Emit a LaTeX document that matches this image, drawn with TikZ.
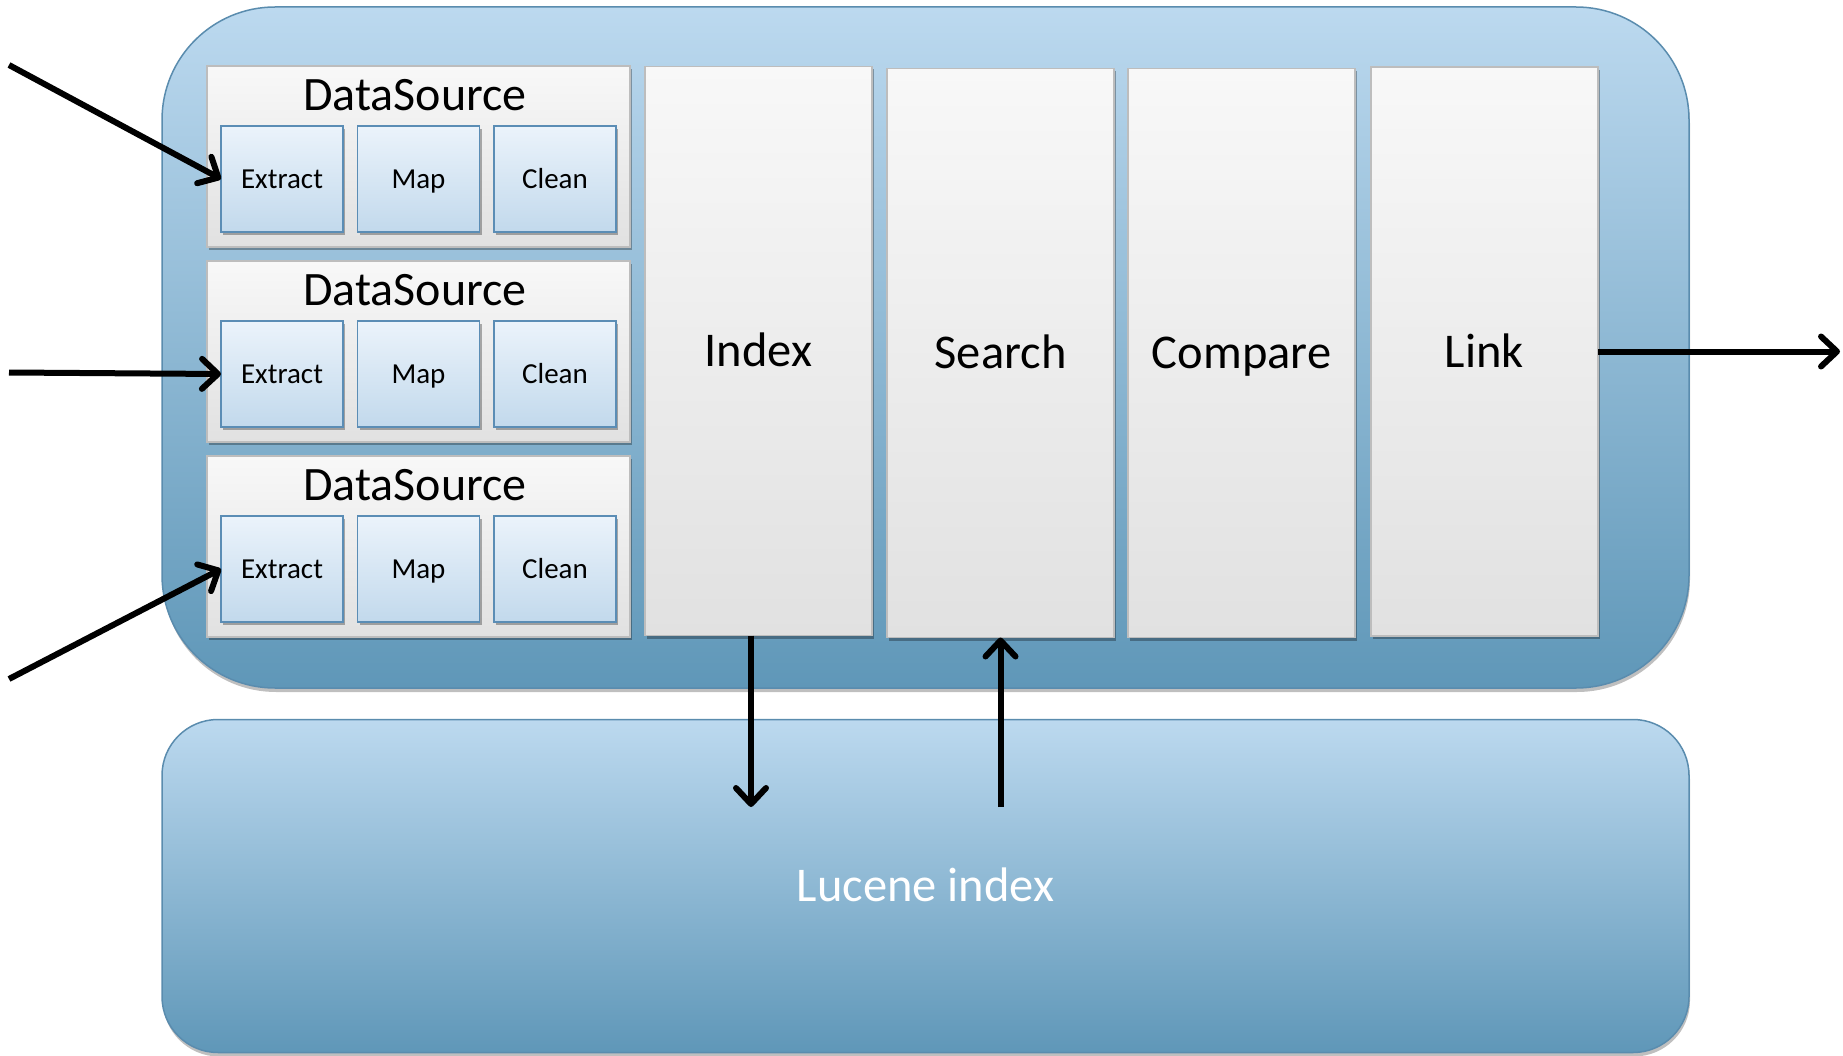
\documentclass[tikz,border=0pt]{standalone}
\usepackage{fontspec}
\setmainfont{Carlito}
\usetikzlibrary{arrows.meta,shadows,calc}
\definecolor{outTop}{HTML}{BCD9EF}
\definecolor{outBot}{HTML}{5F97B8}
\definecolor{outBord}{HTML}{5A8CAE}
\definecolor{panTop}{HTML}{F8F8F8}
\definecolor{panBot}{HTML}{E1E1E1}
\definecolor{panBord}{HTML}{BDBDBD}
\definecolor{inTop}{HTML}{EBF3FB}
\definecolor{inBot}{HTML}{C2D9EC}
\definecolor{inBord}{HTML}{5B8DB5}
\begin{document}
\begin{tikzpicture}[x=1pt,y=-1pt,
  every node/.style={inner sep=0pt, outer sep=0pt},
  container/.style={draw=outBord, line width=1.5pt, top color=outTop, bottom color=outBot,
    drop shadow={shadow xshift=1pt, shadow yshift=-4pt, opacity=.25, fill=black}},
  panel/.style={draw=panBord, line width=1.5pt, top color=panTop, bottom color=panBot,
    drop shadow={shadow xshift=2pt, shadow yshift=-3pt, opacity=.3, fill=black}},
  stepbox/.style={panel, minimum width=227pt, minimum height=569pt,
    font=\fontsize{48.5}{58}\selectfont, text height=31pt, text depth=0pt},
  dsbox/.style={panel, minimum width=423pt, minimum height=181pt},
  dstitle/.style={anchor=base, font=\fontsize{48}{58}\selectfont},
  subbox/.style={draw=inBord, line width=1.3pt, top color=inTop, bottom color=inBot,
    minimum width=122pt, minimum height=106pt,
    font=\fontsize{29}{35}\selectfont, text height=18.5pt, text depth=0pt,
    drop shadow={shadow xshift=2pt, shadow yshift=-3pt, opacity=.3, fill=black}},
  arr/.style={line width=6pt, -{Straight Barb[length=16pt,width=30pt,line join=round,line cap=round]}}
]
\useasboundingbox (0,0) rectangle (1843,1056);

% containers
\node[container, rounded corners=113pt, minimum width=1527pt, minimum height=681pt] (top) at (925.5,347.5) {};
\node[container, rounded corners=56pt, minimum width=1527pt, minimum height=333pt,
  text=white, font=\fontsize{48.5}{58}\selectfont, text height=31pt, text depth=0pt] (lucene) at (925.5,886) {Lucene index};

% data sources
\foreach \i/\cy in {1/156.5, 2/351.5, 3/546.5} {
  \node[dsbox] (ds\i) at (418.5,\cy) {};
  \node[dstitle] (dst\i) at (415,\cy-46) {DataSource};
  \node[subbox] (ext\i) at (282,\cy+22.5) {Extract};
  \node[subbox] (map\i) at (418.5,\cy+22.5) {Map};
  \node[subbox] (cln\i) at (555,\cy+22.5) {Clean};
}

% stages
\node[stepbox] (index) at (758.5,351) {Index};
\node[stepbox] (search) at (1000.5,353) {Search};
\node[stepbox] (compare) at (1241.5,353) {Compare};
\node[stepbox] (link) at (1484.5,351.5) {Link};

% free ends
\coordinate (in1) at (9,65);
\coordinate (in2) at (9,372.5);
\coordinate (in3) at (9,679);
\coordinate (out) at (1840,351.5);
\coordinate (idxend) at (751,807);
\coordinate (srchstart) at (1000.5,807);

% connectors
\draw[arr] (in1) -- (ext1.west);
\draw[arr] (in2) -- (ext2.west);
\draw[arr] (in3) -- (ext3.west);
\draw[arr] (link.east) -- (out);
\draw[arr] (index.south -| idxend) -- (idxend);
\draw[arr] (srchstart) -- (search.south);
\end{tikzpicture}
\end{document}
